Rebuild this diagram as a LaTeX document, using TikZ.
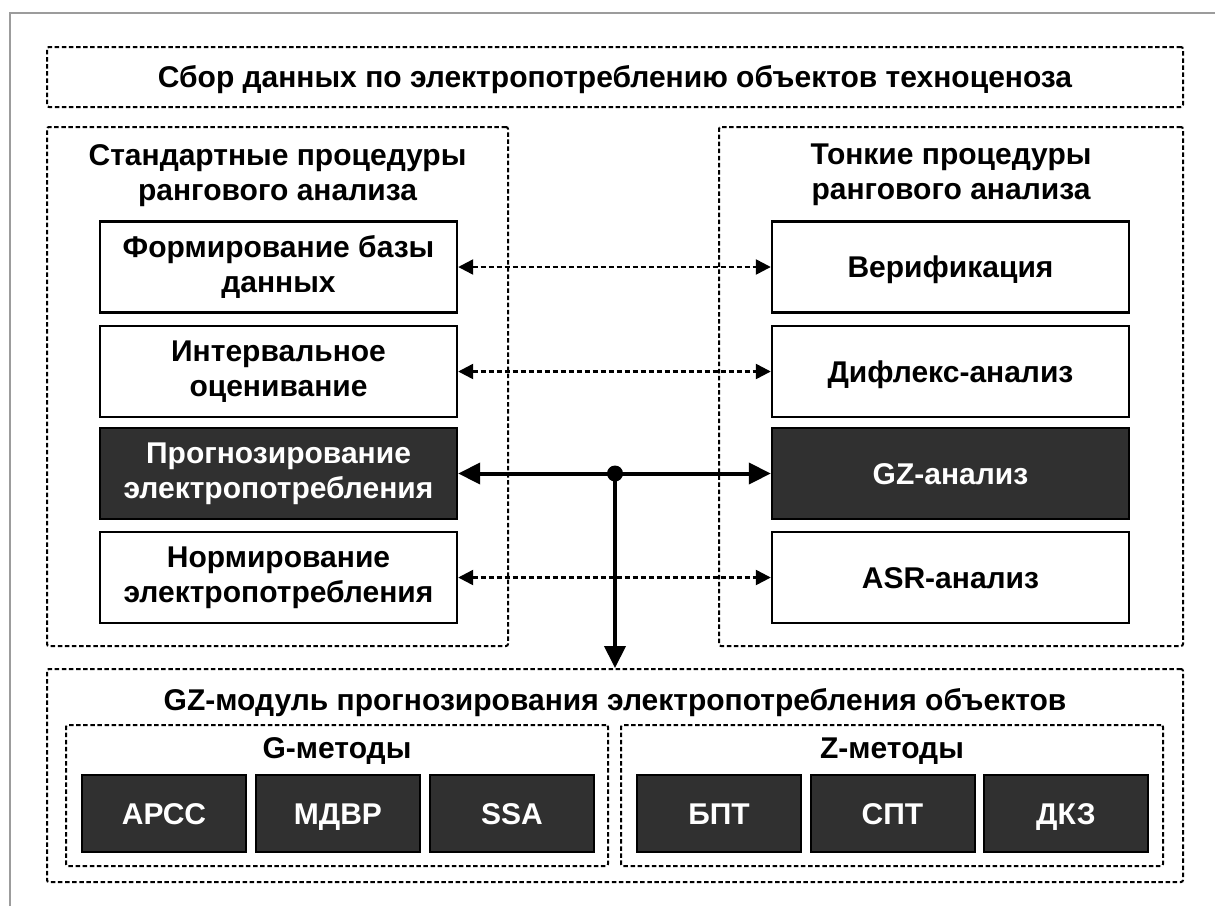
\documentclass[tikz,border=0pt]{standalone}
\usepackage{fontspec}
\setmainfont{Liberation Sans}
\usetikzlibrary{arrows.meta}
\definecolor{darkfill}{HTML}{303030}
\definecolor{framegray}{HTML}{9C9C9C}
\tikzset{
  panel/.style={draw, line width=2pt, dash pattern=on 4.5pt off 2.6pt, rounded corners=2pt, inner sep=0pt},
  txtstyle/.style={font=\bfseries\fontsize{30}{35}\selectfont, align=center, inner sep=0pt},
  wbox/.style={draw, line width=2.4pt, fill=white, inner sep=0pt, minimum width=357pt, minimum height=91pt, txtstyle},
  onebox/.style={wbox, text height=21.5pt, text depth=0pt},
  dbox/.style={wbox, fill=darkfill, text=white},
  donebox/.style={onebox, fill=darkfill, text=white},
  sbox/.style={draw, line width=2pt, fill=darkfill, text=white, inner sep=0pt, minimum width=164pt, minimum height=77pt, txtstyle, text height=21.5pt, text depth=0pt},
  dasharrow/.style={line width=2.4pt, dash pattern=on 5pt off 3pt, {Triangle[length=15pt,width=15pt]}-{Triangle[length=15pt,width=15pt]}},
  solidarrow/.style={line width=4pt, -{Triangle[length=22pt,width=21pt]}},
}
\begin{document}
\begin{tikzpicture}[x=1pt,y=-1pt]
\useasboundingbox (0,0) rectangle (1215,906);
\draw[framegray, line width=2pt] (10,906) -- (10,13) -- (1215,13);

% panels
\node[panel, minimum width=1136pt, minimum height=60pt] (top) at (615,77) {};
\node[txtstyle, text height=21.5pt, text depth=0pt] (toptxt) at (615,77) {Сбор данных по электропотреблению объектов техноценоза};

\node[panel, minimum width=461pt, minimum height=519pt] (lp) at (277.5,386.5) {};
\node[txtstyle, anchor=north] (lptxt) at (277.5,144) {Стандартные процедуры\\рангового анализа};

\node[panel, minimum width=464pt, minimum height=519pt] (rp) at (951,386.5) {};
\node[txtstyle, anchor=north] (rptxt) at (951,144) {Тонкие процедуры\\рангового анализа};

\node[panel, minimum width=1136pt, minimum height=213pt] (bp) at (615,775.5) {};
\node[txtstyle, text height=21.5pt, text depth=0pt] (bptxt) at (615,700) {GZ-модуль прогнозирования электропотребления объектов};

\node[panel, minimum width=542pt, minimum height=141pt] (gp) at (337,795.5) {};
\node[txtstyle, text height=21.5pt, text depth=0pt] (gptxt) at (337,748) {G-методы};
\node[panel, minimum width=542pt, minimum height=141pt] (zp) at (892,795.5) {};
\node[txtstyle, text height=21.5pt, text depth=0pt] (zptxt) at (892,748) {Z-методы};

% left boxes
\node[wbox] (l1) at (278.5,267) {Формирование базы\\данных};
\node[wbox] (l2) at (278.5,371.5) {Интервальное\\оценивание};
\node[dbox] (l3) at (278.5,473.5) {Прогнозирование\\электропотребления};
\node[wbox] (l4) at (278.5,577.5) {Нормирование\\электропотребления};

% right boxes
\node[onebox] (r1) at (950.5,267) {Верификация};
\node[onebox] (r2) at (950.5,371.5) {Дифлекс-анализ};
\node[donebox] (r3) at (950.5,473.5) {GZ-анализ};
\node[onebox] (r4) at (950.5,577.5) {ASR-анализ};

% method boxes
\node[sbox] (g1) at (164,813.5) {АРСС};
\node[sbox] (g2) at (338,813.5) {МДВР};
\node[sbox] (g3) at (512,813.5) {SSA};
\node[sbox] (z1) at (719,813.5) {БПТ};
\node[sbox] (z2) at (892.5,813.5) {СПТ};
\node[sbox] (z3) at (1066,813.5) {ДКЗ};

% connectors
\draw[dasharrow] (l1.east) -- (r1.west);
\draw[dasharrow] (l2.east) -- (r2.west);
\draw[dasharrow] (l4.east) -- (r4.west);

\coordinate (j) at (615,473.5);
\draw[solidarrow] (j) -- (l3.east);
\draw[solidarrow] (j) -- (r3.west);
\draw[solidarrow] (j) -- (j |- bp.north);
\fill (j) circle (8pt);
\end{tikzpicture}
\end{document}
